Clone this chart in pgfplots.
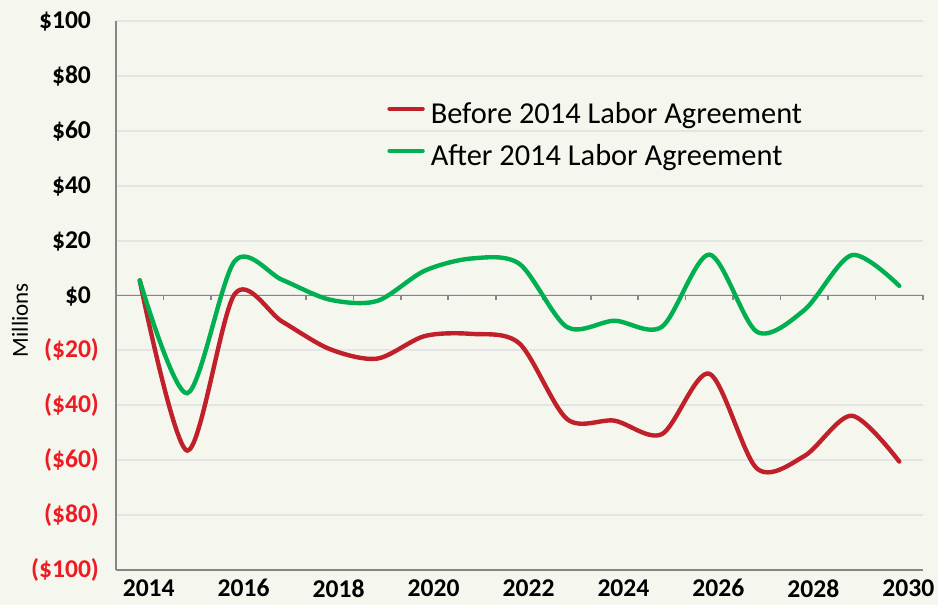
\documentclass[border=0pt]{standalone}
\usepackage{pgfplots}
\pgfplotsset{compat=1.18}
\usepackage{fontspec}
\setmainfont{Carlito}
\definecolor{bg}{HTML}{F5F6ED}
\definecolor{redline}{HTML}{C0202A}
\definecolor{greenline}{HTML}{00B050}
\definecolor{negred}{HTML}{ED1C24}
\definecolor{axisgray}{HTML}{868686}
\definecolor{gridgray}{HTML}{E4E4E4}
\pgfplotstableread{
year before after
2014 5.5 5.5
2015 -56.5 -35.6
2016 0.5 12.5
2017 -9.5 5.7
2018 -19.5 -1.5
2019 -23 -2
2020 -14.8 9
2021 -14 13.5
2022 -17.5 11.5
2023 -45 -11.5
2024 -45.6 -9.2
2025 -50.5 -11.4
2026 -28.5 14.9
2027 -63 -13.2
2028 -58.5 -5.3
2029 -43.8 14.7
2030 -60.5 3.5
}\datatable
\begin{document}
\begin{tikzpicture}
\fill[bg, use as bounding box] (-58pt,-17.5pt) rectangle (411pt,285pt);
\begin{axis}[
  scale only axis,
  width=403.5pt, height=274.5pt,
  xmin=2013.5, xmax=2030.5,
  ymin=-100, ymax=100,
  axis x line*=bottom, axis y line*=left,
  axis line style={axisgray, line width=0.8pt},
  xtick={2014,2016,...,2030},
  xticklabels={2014,2016,2018,2020,2022,2024,2026,2028,2030},
  ytick={-100,-80,...,100},
  yticklabels={\textcolor{negred}{(\$100)},\textcolor{negred}{(\$80)},\textcolor{negred}{(\$60)},\textcolor{negred}{(\$40)},\textcolor{negred}{(\$20)},\$0\phantom{)},\$20\phantom{)},\$40\phantom{)},\$60\phantom{)},\$80\phantom{)},\$100\phantom{)}},
  major tick length=0pt,
  ticklabel style={font=\fontsize{12.8}{14}\selectfont\bfseries},
  xticklabel style={xshift=4.5pt, yshift=-2.5pt, inner sep=2pt},
  yticklabel style={xshift=-5pt},
  ymajorgrids,
  grid style={gridgray, line width=1pt},
  legend cell align=left,
  legend style={draw=none, fill=none, inner sep=0pt,
    at={(rel axis cs:0.3358,0.8560)}, anchor=north west,
    nodes={inner sep=1pt, text height=10.5pt, text depth=3pt, font=\fontsize{15.2}{17}\selectfont},
    row sep=5.5pt, column sep=2pt},
  legend image code/.code={\draw[#1, line width=2.2pt, line cap=round] (0pt,3.5pt) -- (16.5pt,3.5pt);},
  clip=false,
]
\draw[axisgray, line width=0.8pt] (axis cs:2013.5,0) -- (axis cs:2030.5,0);
\pgfplotsinvokeforeach{2013.5,2014.5,2015.5,2016.5,2017.5,2018.5,2019.5,2020.5,2021.5,2022.5,2023.5,2024.5,2025.5,2026.5,2027.5,2028.5,2029.5,2030.5}{
  \draw[axisgray, line width=0.8pt] (axis cs:#1,0) -- ++(0pt,-2.5pt);
}
\addplot[redline, line width=2.2pt, smooth, tension=0.5, line cap=round] table[x=year, y=before] {\datatable};
\addlegendentry{Before 2014 Labor Agreement}
\addplot[greenline, line width=2.2pt, smooth, tension=0.5, line cap=round] table[x=year, y=after] {\datatable};
\addlegendentry{After 2014 Labor Agreement}
\node[rotate=90, font=\fontsize{11.5}{13}\selectfont] at (rel axis cs:-0.119,0.455) {Millions};
\end{axis}
\end{tikzpicture}
\end{document}
